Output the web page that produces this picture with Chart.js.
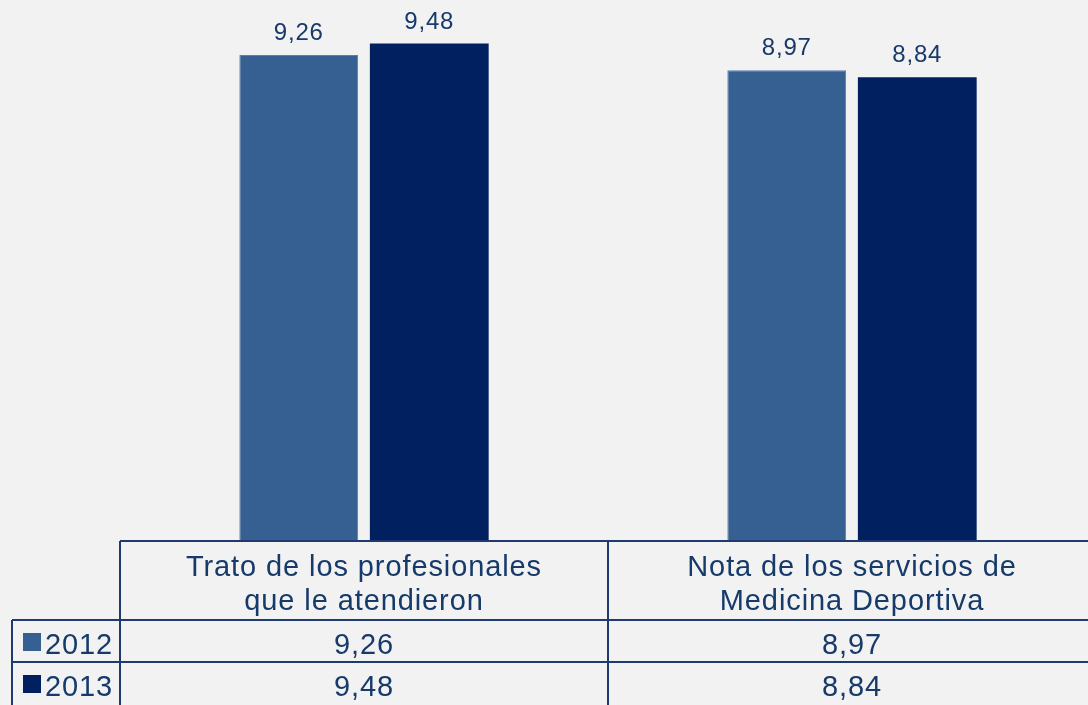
<!DOCTYPE html>
<html>
<head>
<meta charset="utf-8">
<script src="https://cdn.jsdelivr.net/npm/chart.js@4/dist/chart.umd.min.js"></script>
<style>
  html, body { margin: 0; padding: 0; background: #f2f2f2; overflow: hidden; }
  #wrap { position: relative; width: 1100px; height: 705px; }
</style>
</head>
<body>
<div id="wrap"><canvas id="chart"></canvas></div>
<script>
// datos
const categorias = [
  ['Trato de los profesionales', 'que le atendieron'],
  ['Nota de los servicios de', 'Medicina Deportiva']
];
const series = ['2012', '2013'];
const valores2012 = [9.26, 8.97];
const valores2013 = [9.48, 8.84];
const colores = ['#376092', '#002060'];

const txtColor = '#163a6a';
const lineColor = '#1f3a6e';
const fuente = '"Liberation Sans", Arial, sans-serif';

const fmt = v => v.toFixed(2).replace('.', ',');

// tabla de datos bajo el gráfico
const tablaPlugin = {
  id: 'tabla',
  afterDatasetsDraw(chart) {
    const ctx = chart.ctx;
    const xs = chart.scales.x;
    const area = chart.chartArea;
    const catW = (area.right - area.left) / categorias.length;
    const top = area.bottom;
    const rowY1 = top + 79;
    const rowY2 = rowY1 + 42;
    const bottom = rowY2 + 50;
    const legLeft = 12;

    ctx.save();
    // etiquetas sobre las barras
    ctx.fillStyle = txtColor;
    ctx.font = '24px ' + fuente;
    ctx.letterSpacing = '0.8px';
    ctx.textAlign = 'center';
    ctx.textBaseline = 'alphabetic';
    chart.data.datasets.forEach((ds, di) => {
      chart.getDatasetMeta(di).data.forEach((bar, i) => {
        ctx.fillText(fmt(ds.data[i]), bar.x, bar.y - 15);
      });
    });

    // líneas
    ctx.strokeStyle = lineColor;
    ctx.lineWidth = 2;
    ctx.beginPath();
    ctx.moveTo(area.left, top); ctx.lineTo(area.right, top);
    ctx.moveTo(legLeft, rowY1); ctx.lineTo(area.right, rowY1);
    ctx.moveTo(legLeft, rowY2); ctx.lineTo(area.right, rowY2);
    ctx.moveTo(area.left, top); ctx.lineTo(area.left, bottom);
    ctx.moveTo(legLeft, rowY1); ctx.lineTo(legLeft, bottom);
    for (let i = 1; i < categorias.length; i++) {
      const x = area.left + catW * i;
      ctx.moveTo(x, top); ctx.lineTo(x, bottom);
    }
    ctx.stroke();

    // encabezados de categoría
    ctx.font = '29px ' + fuente;
    ctx.letterSpacing = '0.9px';
    categorias.forEach((lines, i) => {
      const cx = xs.getPixelForValue(i);
      lines.forEach((l, k) => ctx.fillText(l, cx, top + 35 + k * 34));
    });

    // filas de valores
    const filas = [valores2012, valores2013];
    filas.forEach((vals, r) => {
      const base = (r === 0 ? rowY1 : rowY2) + 34;
      vals.forEach((v, i) => {
        ctx.textAlign = 'center';
        ctx.fillText(fmt(v), xs.getPixelForValue(i), base);
      });
      ctx.fillStyle = colores[r];
      ctx.fillRect(legLeft + 11, base - 21, 18, 18);
      ctx.fillStyle = txtColor;
      ctx.textAlign = 'left';
      ctx.fillText(series[r], legLeft + 33, base);
    });
    ctx.restore();
  }
};

new Chart(document.getElementById('chart'), {
  type: 'bar',
  data: {
    labels: categorias,
    datasets: [
      { label: series[0], data: valores2012, backgroundColor: colores[0], borderColor: '#5b7eab', borderWidth: 1 },
      { label: series[1], data: valores2013, backgroundColor: colores[1] }
    ]
  },
  options: {
    responsive: true,
    maintainAspectRatio: false,
    animation: false,
    categoryPercentage: 0.535,
    barPercentage: 0.91,
    layout: { padding: { left: 120, right: 4, top: 0, bottom: 164 } },
    scales: {
      x: { display: false },
      y: { display: false, min: 0, max: 10.31 }
    },
    plugins: {
      legend: { display: false },
      tooltip: { enabled: false }
    }
  },
  plugins: [tablaPlugin]
});
</script>
</body>
</html>
